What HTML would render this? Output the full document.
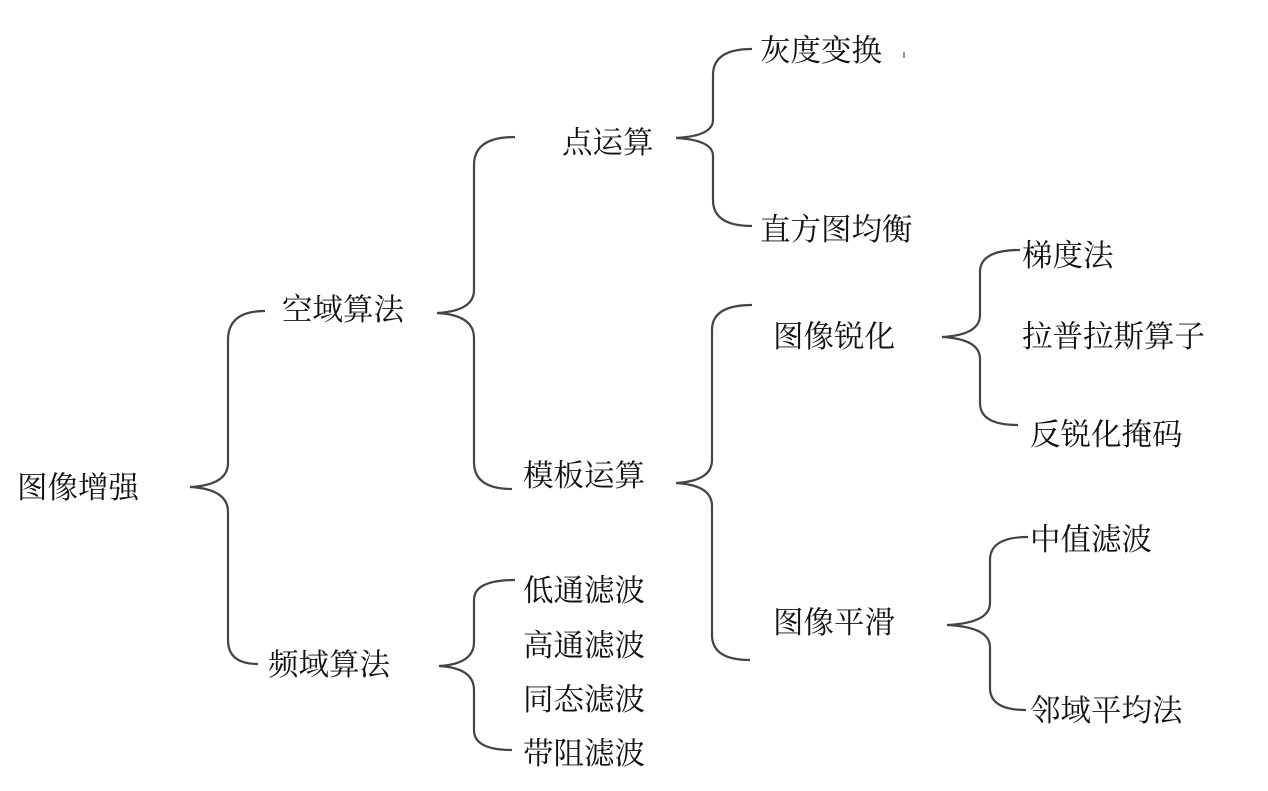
<!DOCTYPE html>
<html><head><meta charset="utf-8"><style>
html,body{margin:0;padding:0;background:#fff;}
svg{display:block;}
text{font-family:"Noto Serif CJK SC","Liberation Serif",serif;font-size:30.5px;fill:#111;dominant-baseline:central;}
path{fill:none;stroke:#444;stroke-width:2.2;}
</style></head><body>
<svg width="1268" height="791" viewBox="0 0 1268 791" xmlns="http://www.w3.org/2000/svg">
<path d="M265 311 Q228 311 228 340 L228 463 Q228 485 190 487 Q228 489 228 512 L228 640 Q228 664 258 664"/>
<path d="M515 137 Q474 137 474 165 L474 290 Q474 311 437 313 Q474 315 474 338 L474 462 Q474 489 512 489"/>
<path d="M515 580 Q474 580 474 600 L474 642 Q474 664 439 666 Q474 668 474 690 L474 730 Q474 750 512 750"/>
<path d="M752 49 Q713 49 713 75 L713 120 Q713 136 676 138 Q713 140 713 156 L713 200 Q713 226 752 226"/>
<path d="M752 305 Q712 305 712 330 L712 460 Q712 481 676 483 Q712 485 712 506 L712 635 Q712 660 750 660"/>
<path d="M1020 250 Q980 250 980 272 L980 315 Q980 335 942 337 Q980 339 980 359 L980 403 Q980 425 1018 425"/>
<path d="M1028 537 Q990 537 990 560 L990 603 Q990 623 947 625 Q990 627 990 647 L990 688 Q990 710 1026 710"/>
<rect x="903" y="52" width="2" height="6" fill="#7a9ab0"/>
<text x="17" y="485">图像增强</text>
<text x="282" y="307">空域算法</text>
<text x="268" y="662">频域算法</text>
<text x="562" y="140">点运算</text>
<text x="523" y="473">模板运算</text>
<text x="523" y="588">低通滤波</text>
<text x="523" y="643">高通滤波</text>
<text x="523" y="697">同态滤波</text>
<text x="523" y="751">带阻滤波</text>
<text x="760" y="48">灰度变换</text>
<text x="760" y="227">直方图均衡</text>
<text x="773" y="334">图像锐化</text>
<text x="773" y="620">图像平滑</text>
<text x="1022" y="253">梯度法</text>
<text x="1022" y="334">拉普拉斯算子</text>
<text x="1030" y="432">反锐化掩码</text>
<text x="1030" y="537">中值滤波</text>
<text x="1030" y="708">邻域平均法</text>
</svg>
</body></html>
